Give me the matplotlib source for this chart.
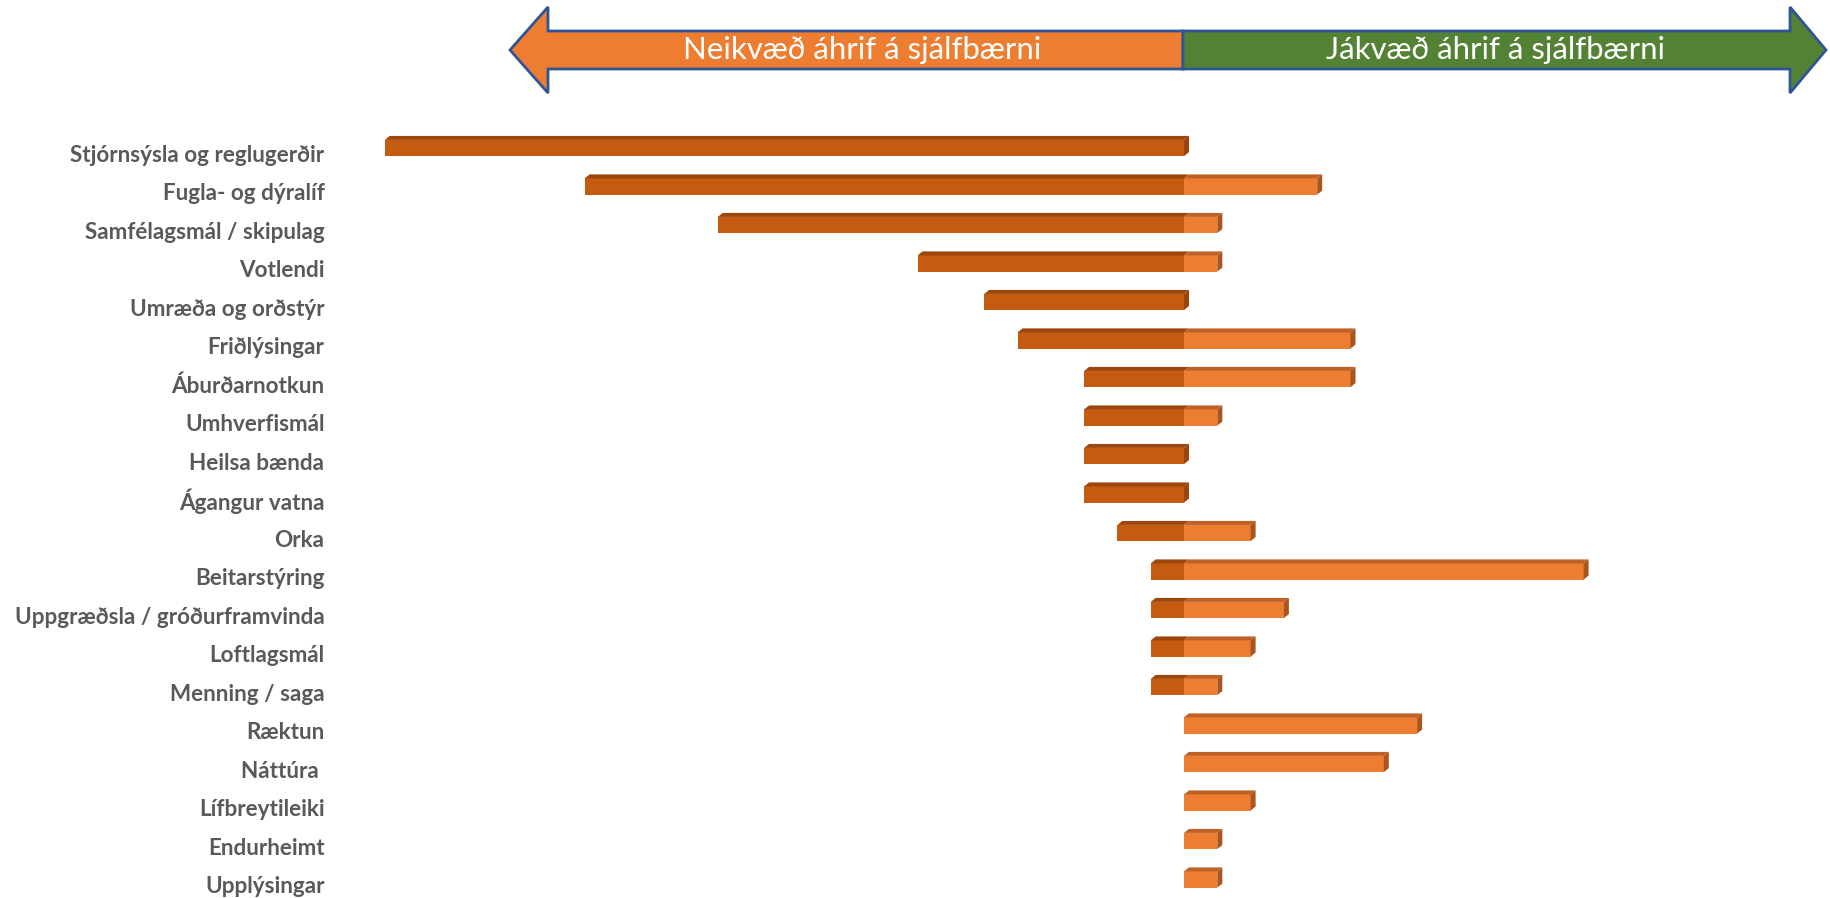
import matplotlib
matplotlib.use("Agg")
import matplotlib.pyplot as plt
from matplotlib.patches import Polygon
import matplotlib.transforms as mtransforms

categories = [
    "Stjórnsýsla og reglugerðir", "Fugla- og dýralíf", "Samfélagsmál / skipulag",
    "Votlendi", "Umræða og orðstýr", "Friðlýsingar", "Áburðarnotkun",
    "Umhverfismál", "Heilsa bænda", "Ágangur vatna", "Orka", "Beitarstýring",
    "Uppgræðsla / gróðurframvinda", "Loftlagsmál", "Menning / saga", "Ræktun",
    "Náttúra ", "Lífbreytileiki", "Endurheimt", "Upplýsingar",
]
negative = [24, 18, 14, 8, 6, 5, 3, 3, 3, 3, 2, 1, 1, 1, 1, 0, 0, 0, 0, 0]
positive = [0, 4, 1, 1, 0, 5, 5, 1, 0, 0, 2, 12, 3, 2, 1, 7, 6, 2, 1, 1]
arrow_labels = ["Neikvæð áhrif á sjálfbærni", "Jákvæð áhrif á sjálfbærni"]

W, H = 1830, 898
fig = plt.figure(figsize=(W / 100, H / 100), dpi=100)

# main axes
unit = 33.3
zero_px = 1184
left_px = 330
row = 38.5
top_px = 148 - row / 2
ax = fig.add_axes([left_px / W, 0, 1 - left_px / W, (H - top_px) / H])
ax.set_xlim(-(zero_px - left_px) / unit, (W - zero_px) / unit)
rows_span = (H - top_px) / row
ax.set_ylim(-0.5 + rows_span, -0.5)
for s in ax.spines.values():
    s.set_visible(False)
ax.set_xticks([])

neg_front, neg_top, neg_side = "#C55A11", "#9C460D", "#9A450D"
pos_front, pos_top, pos_side = "#ED7D31", "#BE6127", "#A9551E"

h = 0.42
dx = 5 / unit
dy = 4 / row
ys = list(range(len(categories)))
ax.barh(ys, [-n for n in negative], height=h, color=neg_front, edgecolor="none", zorder=2)
ax.barh(ys, positive, height=h, color=pos_front, edgecolor="none", zorder=2)

def para_top(x0, x1, y, col):
    yt = y - h / 2
    ax.add_patch(Polygon([(x0, yt), (x0 + dx, yt - dy), (x1 + dx, yt - dy), (x1, yt)],
                         closed=True, facecolor=col, edgecolor="none", zorder=2))

for y, n, p in zip(ys, negative, positive):
    if n > 0:
        para_top(-n, 0, y, neg_top)
    if p > 0:
        para_top(0, p, y, pos_top)
    x1 = p if p > 0 else 0
    col = pos_side if p > 0 else neg_side
    yt, yb = y - h / 2, y + h / 2
    ax.add_patch(Polygon([(x1, yt), (x1 + dx, yt - dy), (x1 + dx, yb - dy), (x1, yb)],
                         closed=True, facecolor=col, edgecolor="none", zorder=2))

ax.set_yticks(ys)
ax.set_yticklabels(categories, fontsize=16.2, fontweight="bold", color="#595959",
                   family=["Lato", "DejaVu Sans"])
ax.tick_params(axis="y", length=0, pad=4)
offset = mtransforms.ScaledTranslation(0, -5 / 100, fig.dpi_scale_trans)
for lab in ax.get_yticklabels():
    lab.set_transform(lab.get_transform() + offset)

# arrows overlay
ov = fig.add_axes([0, 0, 1, 1])
ov.set_xlim(0, W)
ov.set_ylim(H, 0)
ov.axis("off")
ov.patch.set_alpha(0)
mid = 1183
cy = 50
st, sb = 31, 69
ht, hb = 7, 93
left_arrow = [(510, cy), (548, ht), (548, st), (mid, st), (mid, sb), (548, sb), (548, hb)]
right_arrow = [(mid, st), (1790, st), (1790, ht), (1826, cy), (1790, hb), (1790, sb), (mid, sb)]
ov.add_patch(Polygon(left_arrow, closed=True, facecolor="#ED7D31", edgecolor="#2F5597", linewidth=2))
ov.add_patch(Polygon(right_arrow, closed=True, facecolor="#548235", edgecolor="#2F5597", linewidth=2))
ov.text(862, cy, arrow_labels[0], color="white", fontsize=22.4, ha="center", va="center",
        family=["Lato", "DejaVu Sans"])
ov.text(1496, cy, arrow_labels[1], color="white", fontsize=22.4, ha="center", va="center",
        family=["Lato", "DejaVu Sans"])

fig.savefig("out.png", dpi=100, facecolor="white")
